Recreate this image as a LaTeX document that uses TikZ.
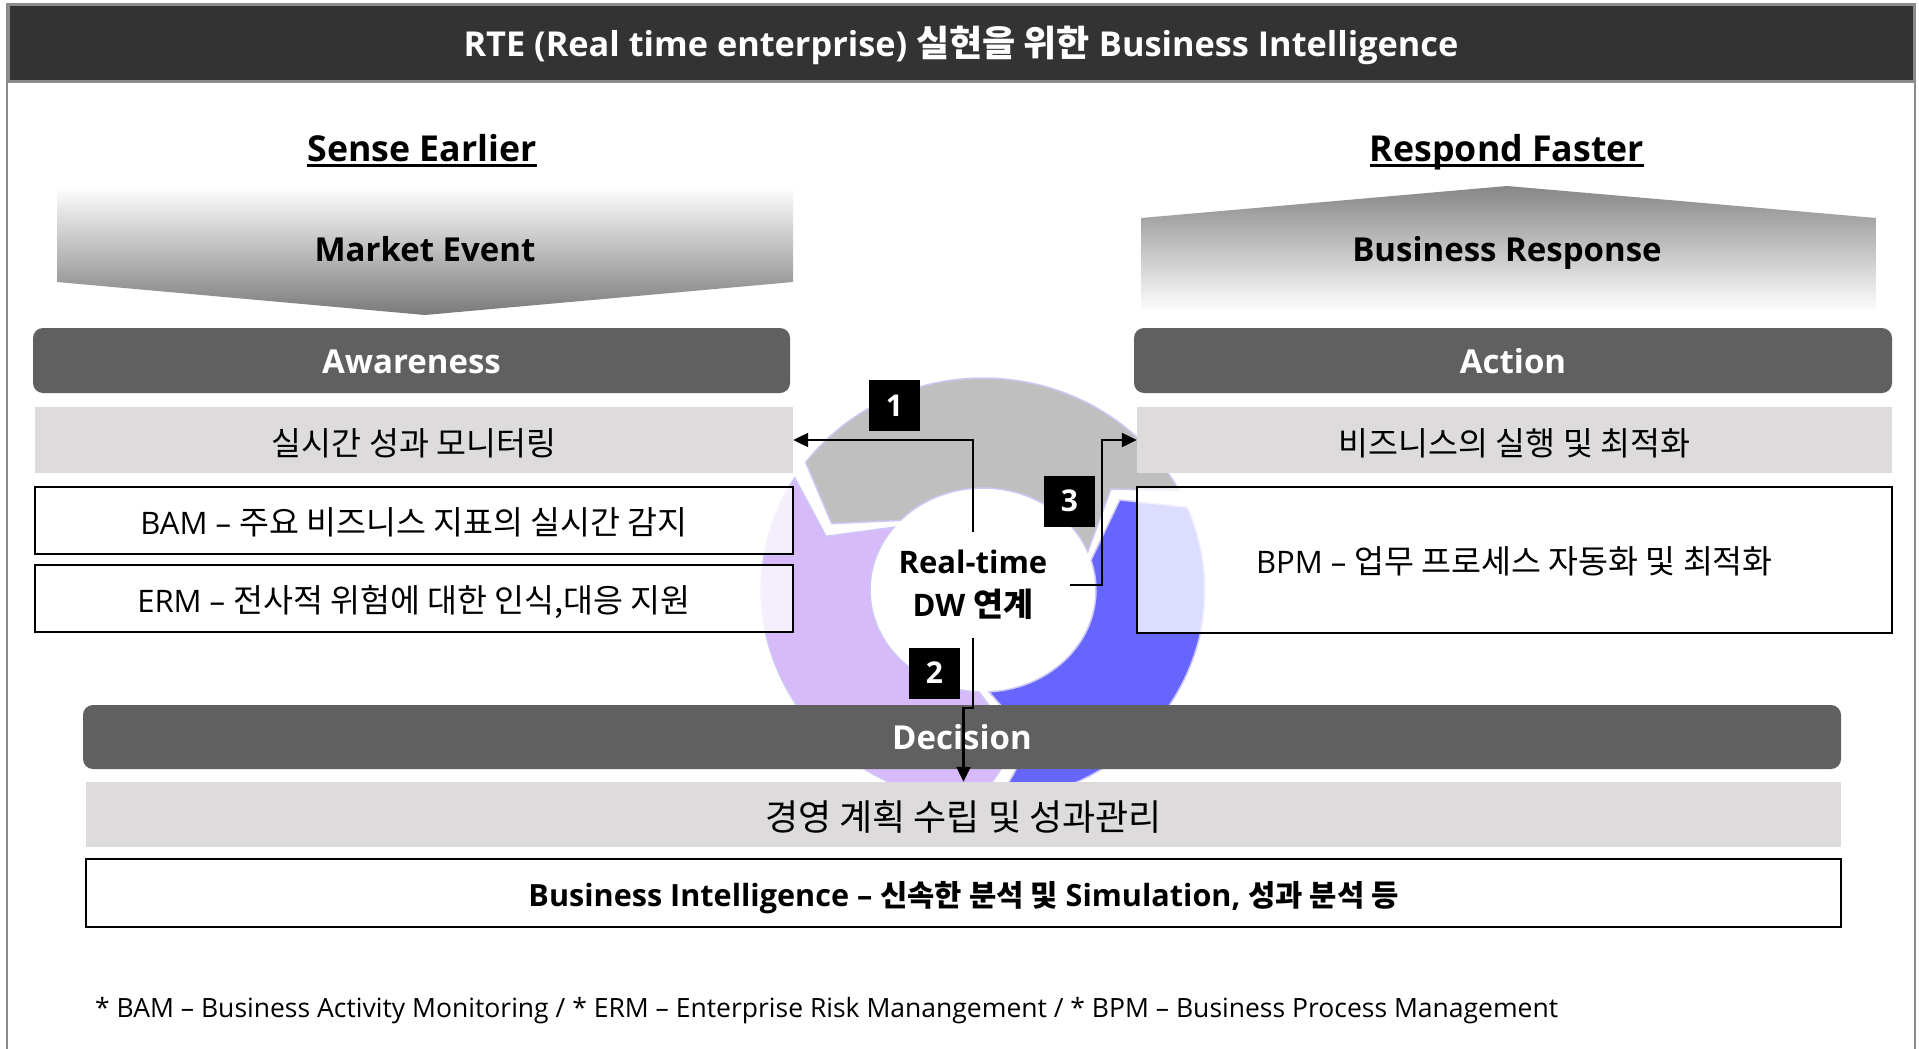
\documentclass[tikz,border=0pt]{standalone}
\usepackage{fontspec}
\setmainfont{Open Sans}
\newfontfamily\kr[Scale=1.05]{Noto Sans CJK KR}
\newfontfamily\krb[Scale=0.97]{Noto Sans CJK KR}
\usetikzlibrary{arrows.meta}
\definecolor{titlebg}{RGB}{51,51,51}
\definecolor{framegray}{RGB}{140,140,140}
\definecolor{barbg}{RGB}{96,96,96}
\definecolor{lightbox}{RGB}{221,219,220}
\definecolor{ringgray}{RGB}{191,191,191}
\definecolor{ringpurple}{RGB}{214,186,250}
\definecolor{ringblue}{RGB}{102,102,255}
\definecolor{ringedge}{RGB}{205,200,245}
\definecolor{fadegray}{RGB}{122,122,122}
\definecolor{fadegraytwo}{RGB}{135,135,135}
\newcommand{\fs}[1]{\fontsize{#1}{#1}\selectfont}
\newcommand{\ringseg}[7]{%
  \fill[#1, draw=ringedge, line width=1.5pt]
    plot[domain=#2:#3, samples=60, variable=\t] ({983+222*cos(\t)},{590-212*sin(\t)})
    -- ({983+167*cos(#4)},{590-157*sin(#4)})
    -- plot[domain=#5:#6, samples=60, variable=\t] ({983+113*cos(\t)},{590-102*sin(\t)})
    -- ({983+167*cos(#7)},{590-157*sin(#7)}) -- cycle;}
\tikzset{
  barsty/.style={fill=barbg, rounded corners=10pt, text=white, font=\fs{33}\bfseries, inner sep=0pt, text height=25.8pt, text depth=0pt},
  graysty/.style={fill=lightbox, font=\fs{31}, inner sep=0pt, text height=30.3pt, text depth=0pt},
  linesty/.style={draw=black, line width=2pt, fill=white, fill opacity=0.78, text opacity=1, font=\fs{31}, inner sep=0pt, text height=27.3pt, text depth=0pt},
  numsty/.style={fill=black, text=white, font=\fs{30}\bfseries, minimum width=51pt, minimum height=51pt, inner sep=0pt, text height=21.6pt, text depth=0pt},
  conn/.style={draw=black, line width=2.2pt, -{Triangle[length=15pt, width=14pt]}},
  headsty/.style={font=\fs{35.7}\bfseries, inner sep=0pt, anchor=base},
  fadesty/.style={font=\fs{33}\bfseries, inner sep=0pt, text height=23.8pt, text depth=0pt}
}
\begin{document}
\begin{tikzpicture}[x=1pt, y=-1pt]
\useasboundingbox (0,0) rectangle (1919,1049);
\fill[white] (0,0) rectangle (1919,1049);
% outer frame
\draw[framegray, line width=2.5pt] (7,1049) -- (7,4) -- (1915,4) -- (1915,1049);
% title bar
\fill[titlebg, draw=framegray, line width=3pt] (8,5) rectangle (1914,81);
\node[inner sep=0pt, text=white, font=\fs{34.3}\bfseries, text height=24.7pt, text depth=0pt] (title) at (961,44) {RTE (Real time enterprise) {\kr 실현을 위한} Business Intelligence};
% headings
\node[headsty] (se) at (422,161) {Sense Earlier};
\draw[line width=3pt] ([yshift=-4pt]se.base west) -- ([yshift=-4pt]se.base east);
\node[headsty] (rf) at (1507,161) {Respond Faster};
\draw[line width=3pt] ([yshift=-4pt]rf.base west) -- ([yshift=-4pt]rf.base east);
% gradient arrows
\shade[top color=white, bottom color=fadegray] (57,186) -- (793,186) -- (793,282) -- (425,315) -- (57,282) -- cycle;
\node[fadesty] (me) at (425,250) {Market Event};
\shade[top color=fadegraytwo, bottom color=white] (1141,218) -- (1507,186) -- (1876,218) -- (1876,312) -- (1141,312) -- cycle;
\node[fadesty] (br) at (1507,250) {Business Response};
% cycle ring
\ringseg{ringgray}{28}{143}{155}{137}{22}{40}
\ringseg{ringpurple}{148}{269}{282}{268}{142}{160}
\ringseg{ringblue}{274}{383}{395}{377}{273}{287}
% left column
\node[barsty, minimum width=757pt, minimum height=65pt] (aw) at (411.5,360.5) {Awareness};
\node[graysty, minimum width=758pt, minimum height=66pt] (mon) at (414,440) {\kr 실시간 성과 모니터링};
\node[linesty, minimum width=758pt, minimum height=67pt] (bam) at (414,520.5) {BAM – {\kr 주요 비즈니스 지표의 실시간 감지}};
\node[linesty, minimum width=758pt, minimum height=67pt] (erm) at (414,598.5) {ERM – {\kr 전사적 위험에 대한 인식,대응 지원}};
% right column
\node[barsty, minimum width=758pt, minimum height=65pt] (ac) at (1513,360.5) {Action};
\node[graysty, minimum width=755pt, minimum height=66pt] (exe) at (1514.5,440) {\kr 비즈니스의 실행 및 최적화};
\node[linesty, minimum width=755pt, minimum height=146pt] (bpm) at (1514.5,560) {BPM – {\kr 업무 프로세스 자동화 및 최적화}};
% bottom
\node[barsty, minimum width=1758pt, minimum height=64pt] (dec) at (962,737) {Decision};
\node[graysty, minimum width=1755pt, minimum height=65pt, font=\fs{34.3}, text height=31.7pt] (mgmt) at (963.5,814.5) {\kr 경영 계획 수립 및 성과관리};
\node[draw=black, line width=2.5pt, fill=white, minimum width=1755pt, minimum height=68pt, inner sep=0pt, font=\fs{30.6}\bfseries, text height=27pt, text depth=0pt] (bi) at (963.5,893) {Business Intelligence – {\krb 신속한 분석 및} Simulation, {\krb 성과 분석 등}};
% centre
\node[minimum width=194pt, minimum height=105pt, inner sep=0pt, align=center, font=\fontsize{31}{43}\selectfont\bfseries] (rt) at (973,585) {Real-time\\DW {\kr 연계}};
% connectors
\draw[conn] (rt.north) |- (mon.east);
\draw[conn] (rt.east) -- ++(32,0) |- (exe.west);
\draw[conn] (rt.south) -- ++(0,70) -| (mgmt.north);
% numbers
\node[numsty] (n1) at (894.5,405.5) {1};
\node[numsty] (n3) at (1069.5,501) {3};
\node[numsty] (n2) at (934.5,673) {2};
% footnote
\node[anchor=west, inner sep=0pt, font=\fs{26.5}, text height=19pt, text depth=0pt] (fn) at (95,1008) {* BAM – Business Activity Monitoring / * ERM – Enterprise Risk Manangement / * BPM – Business Process Management};
\end{tikzpicture}
\end{document}
